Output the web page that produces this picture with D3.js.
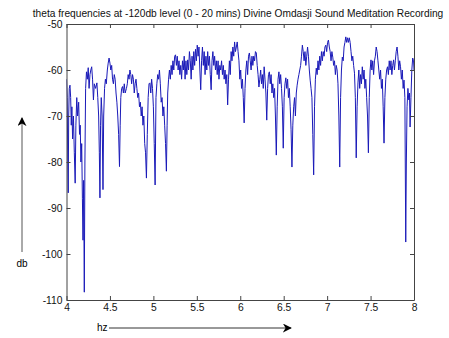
<!DOCTYPE html>
<html><head><meta charset="utf-8">
<script src="https://cdn.jsdelivr.net/npm/d3@7"></script>
<style>body{margin:0;background:#fff}svg{display:block}text{font-family:"Liberation Sans",Arial,sans-serif}</style>
</head><body>
<script>
const titleText = "theta frequencies at -120db level (0 - 20 mins) Divine Omdasji Sound Meditation Recording";
const xTicks = [4, 4.5, 5, 5.5, 6, 6.5, 7, 7.5, 8];
const xTickLabels = ["4","4.5","5","5.5","6","6.5","7","7.5","8"];
const yTicks = [-50, -60, -70, -80, -90, -100, -110];
const yTickLabels = ["-50","-60","-70","-80","-90","-100","-110"];
const freqHz = [
4.000,4.008,4.015,4.020,4.025,4.032,4.040,4.048,4.055,4.062,4.070,4.080,4.090,4.100,4.108,4.118,4.128,4.140,4.150,4.158,
4.166,4.175,4.183,4.190,4.197,4.205,4.212,4.220,4.230,4.240,4.250,4.260,4.270,4.280,4.290,4.300,4.310,4.320,4.335,4.350,
4.360,4.370,4.378,4.385,4.392,4.400,4.410,4.420,4.428,4.438,4.448,4.458,4.470,4.480,4.490,4.500,4.510,4.520,4.530,4.540,
4.550,4.560,4.570,4.580,4.590,4.600,4.610,4.618,4.625,4.635,4.645,4.655,4.665,4.675,4.690,4.700,4.710,4.720,4.730,4.740,
4.750,4.760,4.770,4.780,4.790,4.800,4.810,4.820,4.830,4.840,4.850,4.860,4.870,4.880,4.890,4.900,4.910,4.920,4.930,4.940,
4.950,4.960,4.970,4.980,4.990,5.000,5.010,5.020,5.030,5.040,5.050,5.060,5.070,5.080,5.090,5.100,5.110,5.120,5.130,5.140,
5.150,5.158,5.165,5.175,5.185,5.195,5.205,5.215,5.225,5.235,5.245,5.255,5.265,5.275,5.285,5.295,5.305,5.315,5.325,5.335,
5.345,5.355,5.365,5.375,5.385,5.395,5.405,5.415,5.425,5.435,5.445,5.455,5.465,5.475,5.485,5.495,5.505,5.515,5.525,5.535,
5.545,5.555,5.565,5.575,5.585,5.595,5.605,5.615,5.625,5.635,5.645,5.655,5.665,5.675,5.685,5.695,5.705,5.715,5.725,5.735,
5.745,5.755,5.765,5.775,5.785,5.795,5.805,5.815,5.825,5.835,5.845,5.855,5.865,5.875,5.885,5.895,5.905,5.915,5.925,5.935,
5.945,5.955,5.965,5.975,5.985,5.995,6.005,6.015,6.025,6.035,6.045,6.055,6.065,6.075,6.085,6.095,6.105,6.115,6.125,6.135,
6.145,6.155,6.165,6.175,6.185,6.195,6.205,6.215,6.225,6.235,6.245,6.255,6.265,6.275,6.285,6.295,6.305,6.315,6.325,6.335,
6.345,6.355,6.365,6.375,6.385,6.395,6.405,6.415,6.425,6.435,6.445,6.455,6.465,6.475,6.485,6.495,6.505,6.515,6.525,6.535,
6.545,6.555,6.565,6.575,6.585,6.595,6.605,6.615,6.625,6.635,6.645,6.655,6.665,6.675,6.685,6.695,6.705,6.715,6.725,6.735,
6.745,6.755,6.765,6.775,6.785,6.795,6.805,6.815,6.825,6.835,6.845,6.855,6.865,6.875,6.885,6.895,6.905,6.915,6.925,6.935,
6.945,6.955,6.965,6.975,6.985,6.995,7.005,7.015,7.025,7.035,7.045,7.055,7.065,7.075,7.085,7.095,7.105,7.115,7.125,7.135,
7.145,7.155,7.165,7.175,7.185,7.195,7.205,7.215,7.225,7.235,7.245,7.255,7.265,7.275,7.285,7.295,7.305,7.315,7.325,7.335,
7.345,7.355,7.365,7.375,7.385,7.395,7.405,7.415,7.425,7.435,7.445,7.455,7.465,7.475,7.485,7.495,7.505,7.515,7.525,7.535,
7.545,7.555,7.565,7.575,7.585,7.595,7.605,7.615,7.625,7.635,7.645,7.655,7.665,7.675,7.685,7.695,7.705,7.715,7.725,7.735,
7.745,7.755,7.765,7.775,7.785,7.795,7.805,7.815,7.825,7.835,7.845,7.855,7.865,7.875,7.885,7.895,7.905,7.912,7.920,7.930,
7.940,7.948,7.955,7.965,7.975,7.985,7.995,8.000];
const levelDb = [
-62,-66,-80,-86.7,-70,-64,-63.3,-66,-72,-68,-75,-70,-78,-84.6,-72,-66,-70,-67,-74,-72,
-80,-76,-88,-97,-84,-108.3,-80,-64,-60.4,-62,-59.5,-64,-61,-60,-59.3,-62,-66.5,-63,-64,-62.8,
-66,-70,-78,-87.8,-72,-66,-70,-86,-70,-64,-62,-63,-60,-58.5,-57.4,-58.5,-60,-59,-62,-63,
-61,-62,-65,-67,-70,-74,-81,-72,-66,-64,-63.6,-65,-63,-65,-64,-63,-61,-62,-60,-61,
-63,-61,-62,-65,-63,-62,-64,-66,-65,-68,-67,-70,-68,-72,-70,-76,-78,-83.5,-74,-66,
-63,-62.8,-65,-62,-64,-68,-76,-85,-66,-63,-61,-62,-60,-63,-67,-66,-70,-68,-72,-76,
-82,-72,-65,-62,-60,-62,-59,-61,-58,-60,-57,-56.7,-59,-57,-60,-58,-61,-59,-62,-58,
-60,-57,-62,-58,-61,-57.8,-60,-56,-58,-62,-57,-60,-56,-59,-55.5,-58,-54.6,-57,-55,-60,
-64.3,-58,-55,-59,-56,-61,-57,-60,-56,-59,-57,-61,-64.3,-58,-56,-59,-57,-60,-58,-61,
-58,-62,-59,-60,-58,-61,-59,-62,-60,-63,-61,-67.6,-62,-58,-61,-56,-58,-55,-57,-53.9,
-56,-55,-53.9,-56,-58,-62,-60,-64,-62,-66,-71.5,-64,-60,-58,-61,-57,-56.3,-58,-60,-57,
-59,-57,-58,-56,-56.3,-59,-61,-63.7,-62,-60,-63,-61,-64,-59.3,-62,-65,-70.9,-64,-61,-60.4,
-63,-61,-65,-63,-66,-64,-70,-78.5,-68,-62,-60.4,-63,-61,-64,-68,-77,-66,-63,-61.7,-64,
-62,-66,-64,-68,-73,-81.1,-72,-68,-66,-70,-65,-63.3,-62,-61,-60,-59,-57,-54.6,-56,-58,
-56,-59,-57,-55,-57,-60,-62.2,-64,-66,-74,-82.8,-68,-62,-59.6,-61,-58,-60,-57,-59,-56,
-58,-56,-57,-55,-54.6,-56,-54,-53.5,-55,-56,-58,-56,-57.2,-59,-58,-61,-59,-60,-63,-70,
-81.1,-66,-60,-57.2,-58,-55,-54,-52.8,-54,-53,-54,-53,-54,-56,-58,-57,-59,-60.7,-66,-79.1,
-68,-62.8,-60,-64,-61,-63,-59.3,-62,-60,-64,-62,-66,-70,-78,-66,-60,-57.8,-60,-58,-61,
-58,-57,-55,-56,-58,-60,-62,-60,-64,-62,-68,-75.9,-66,-62,-60,-59.3,-61,-58,-60,-58,
-61,-59,-57.8,-60,-58,-56,-55,-57,-60,-58,-59.3,-62,-60,-64,-62.2,-66,-97.4,-80,-68,-64,
-66.5,-65,-72.4,-66,-60,-57.4,-58,-60];

const W = 449, H = 338;
const m = {left: 66.5, right: 414, top: 24, bottom: 300};
const svg = d3.select("body").append("svg").attr("width", W).attr("height", H);
const x = d3.scaleLinear().domain([4, 8]).range([m.left, m.right]);
const y = d3.scaleLinear().domain([-110, -50]).range([m.bottom, m.top]);
const axisColor = "#444";

// data line
const pts = freqHz.map((f, i) => [f, levelDb[i]]);
svg.append("defs").append("clipPath").attr("id","clip").append("rect")
  .attr("x", m.left).attr("y", m.top).attr("width", m.right - m.left).attr("height", m.bottom - m.top);
svg.append("path").datum(pts)
  .attr("clip-path","url(#clip)")
  .attr("fill","none").attr("stroke","#1a1ab8").attr("stroke-width",1)
  .attr("d", d3.line().x(d => x(d[0])).y(d => y(d[1])));

// axes (MATLAB box style, inward ticks)
const tl = 4;
const fmtX = (d) => xTickLabels[xTicks.indexOf(d)];
const fmtY = (d) => yTickLabels[yTicks.indexOf(d)];
function style(g){ g.select(".domain").attr("stroke", axisColor); g.selectAll(".tick line").attr("stroke", axisColor); g.selectAll("text").attr("fill","#111").attr("font-size", 10.3); }
svg.append("g").attr("transform", `translate(0,${m.bottom})`)
  .call(d3.axisBottom(x).tickValues(xTicks).tickFormat(fmtX).tickSizeInner(-tl).tickSizeOuter(0).tickPadding(4))
  .call(style);
svg.append("g").attr("transform", `translate(0,${m.top})`)
  .call(d3.axisTop(x).tickValues(xTicks).tickFormat("").tickSizeInner(-tl).tickSizeOuter(0))
  .call(style);
svg.append("g").attr("transform", `translate(${m.left},0)`)
  .call(d3.axisLeft(y).tickValues(yTicks).tickFormat(fmtY).tickSizeInner(-tl).tickSizeOuter(0).tickPadding(4))
  .call(style);
svg.append("g").attr("transform", `translate(${m.right},0)`)
  .call(d3.axisRight(y).tickValues(yTicks).tickFormat("").tickSizeInner(-tl).tickSizeOuter(0))
  .call(style);

// title
svg.append("text").attr("x", 238).attr("y", 17).attr("text-anchor","middle")
  .attr("font-size", 10.2).attr("fill","#111").text(titleText);

// db label with arrow
svg.append("defs").append("marker").attr("id","ah").attr("viewBox","0 0 10 10")
  .attr("refX", 9).attr("refY", 5).attr("markerWidth", 9).attr("markerHeight", 9).attr("orient","auto-start-reverse")
  .append("path").attr("d","M0,0 L10,5 L0,10 L3,5 Z").attr("fill","#000");
svg.append("line").attr("x1", 22).attr("x2", 22).attr("y1", 252).attr("y2", 118)
  .attr("stroke","#555").attr("stroke-width",1).attr("marker-end","url(#ah)");
svg.append("text").attr("x", 22).attr("y", 267).attr("text-anchor","middle").attr("font-size", 10).text("db");

// hz label with arrow
svg.append("text").attr("x", 97).attr("y", 331).attr("font-size", 10).text("hz");
svg.append("line").attr("x1", 109).attr("x2", 291).attr("y1", 328).attr("y2", 328)
  .attr("stroke","#333").attr("stroke-width",1).attr("marker-end","url(#ah)");
</script>
</body></html>
